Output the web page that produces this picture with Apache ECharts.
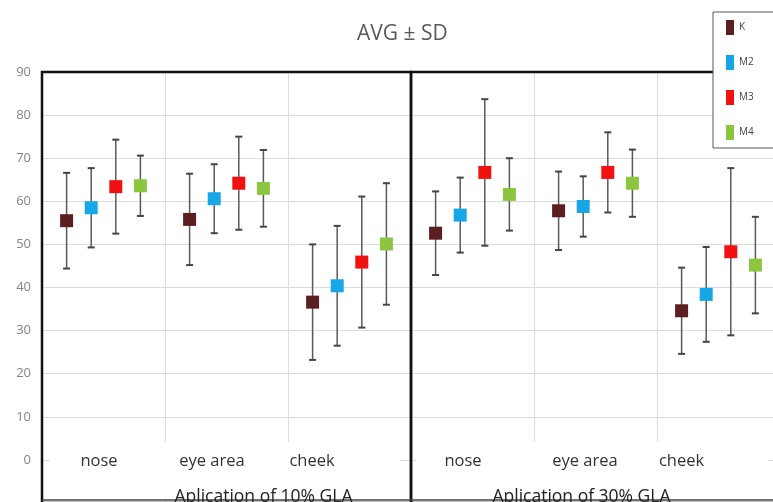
<!DOCTYPE html>
<html>
<head>
<meta charset="utf-8">
<script src="https://cdn.jsdelivr.net/npm/echarts@6/dist/echarts.min.js"></script>
<style>
  html, body { margin: 0; padding: 0; background: #fff; }
  #main { width: 773px; height: 502px; }
</style>
</head>
<body>
<div id="main"></div>
<script>
// categories and series
var cats = ['nose', 'eye area', 'cheek'];
var names = ['K', 'M2', 'M3', 'M4'];
var panels = ['Aplication of 10% GLA', 'Aplication of 30% GLA'];

// 10% GLA: averages and SD per area (nose, eye area, cheek)
var avg10K  = [55.5, 55.8, 36.6];
var sd10K   = [11.1, 10.6, 13.4];
var avg10M2 = [58.5, 60.6, 40.4];
var sd10M2  = [9.2, 8.0, 13.9];
var avg10M3 = [63.4, 64.2, 45.9];
var sd10M3  = [10.9, 10.8, 15.2];
var avg10M4 = [63.6, 63.0, 50.1];
var sd10M4  = [7.0, 8.9, 14.1];

// 30% GLA
var avg30K  = [52.6, 57.8, 34.6];
var sd30K   = [9.7, 9.1, 10.0];
var avg30M2 = [56.8, 58.8, 38.4];
var sd30M2  = [8.7, 7.0, 11.0];
var avg30M3 = [66.7, 66.7, 48.3];
var sd30M3  = [17.0, 9.3, 19.4];
var avg30M4 = [61.6, 64.2, 45.2];
var sd30M4  = [8.4, 7.8, 11.2];

var colors = ['#5c1f1f', '#18a7e6', '#f21111', '#8cc63f'];
var font = 'Open Sans';

// how far each area label sits left of its category centre
var shift10 = [4.5, 14.5, 37.5];
var shift30 = [9.5, 10.5, 37];

function richFor(shift) {
    var rich = {};
    shift.forEach(function (s, i) {
        rich['c' + i] = {
            fontFamily: font, fontSize: 16.5, color: '#333',
            padding: [0, s * 2, 0, 0]
        };
    });
    return rich;
}

function makeSeries(k, avg, sd, xIdx, yIdx) {
    return {
        name: names[k],
        type: 'custom',
        xAxisIndex: xIdx,
        yAxisIndex: yIdx,
        itemStyle: { color: colors[k] },
        encode: { x: 0, y: 1 },
        z: 5,
        data: cats.map(function (c, i) {
            return [i, avg[i], avg[i] - sd[i], avg[i] + sd[i]];
        }),
        renderItem: function (params, api) {
            var mid = api.coord([api.value(0), api.value(1)]);
            var lo = api.coord([api.value(0), api.value(2)]);
            var hi = api.coord([api.value(0), api.value(3)]);
            var bw = api.size([1, 0])[0];
            var x = mid[0] + (k - 1.5) * bw * 0.2;
            return {
                type: 'group',
                children: [
                    { type: 'line', shape: { x1: x, y1: hi[1], x2: x, y2: lo[1] },
                      style: { stroke: '#5a5a5a', lineWidth: 1.5 } },
                    { type: 'line', shape: { x1: x - 3.5, y1: hi[1], x2: x + 3.5, y2: hi[1] },
                      style: { stroke: '#444', lineWidth: 2 } },
                    { type: 'line', shape: { x1: x - 3.5, y1: lo[1], x2: x + 3.5, y2: lo[1] },
                      style: { stroke: '#444', lineWidth: 2 } },
                    { type: 'rect', shape: { x: x - 6.5, y: mid[1] - 6.5, width: 13, height: 13 },
                      style: { fill: colors[k] } }
                ]
            };
        }
    };
}

function lineAxis(grid) {
    return {
        type: 'category', gridIndex: grid, data: cats, position: 'bottom', z: 0,
        axisLine: { show: false }, axisTick: { show: false }, axisLabel: { show: false },
        splitLine: { show: true, lineStyle: { color: '#dcdcdc', width: 1 } }
    };
}

// axis lifted into the plot so its labels and name sit inside the frame
function labelAxis(grid, shift, title, namePad) {
    return {
        type: 'category', gridIndex: grid, data: cats, position: 'bottom', z: 10,
        offset: -21,
        axisLine: { show: false }, axisTick: { show: false }, splitLine: { show: false },
        axisLabel: {
            inside: true, margin: 12,
            formatter: function (v, i) { return '{c' + i + '|' + v + '}'; },
            rich: richFor(shift)
        },
        name: title, nameLocation: 'middle', nameGap: 0,
        nameTextStyle: { fontFamily: font, fontSize: 17.5, color: '#222', padding: namePad }
    };
}

function valAxis(grid, showLabels) {
    return {
        type: 'value', gridIndex: grid, min: -10, max: 90, interval: 10, z: 0,
        axisLine: { show: false }, axisTick: { show: false },
        axisLabel: {
            show: showLabels, margin: 11, color: '#858585', fontFamily: font, fontSize: 13,
            formatter: function (v) { return v < 0 ? '' : v; }
        },
        splitLine: { show: true, lineStyle: { color: '#dcdcdc', width: 1 } }
    };
}

var series = [
    makeSeries(0, avg10K, sd10K, 0, 0),
    makeSeries(1, avg10M2, sd10M2, 0, 0),
    makeSeries(2, avg10M3, sd10M3, 0, 0),
    makeSeries(3, avg10M4, sd10M4, 0, 0),
    makeSeries(0, avg30K, sd30K, 2, 1),
    makeSeries(1, avg30M2, sd30M2, 2, 1),
    makeSeries(2, avg30M3, sd30M3, 2, 1),
    makeSeries(3, avg30M4, sd30M4, 2, 1)
];

var chart = echarts.init(document.getElementById('main'));
chart.setOption({
    backgroundColor: '#fff',
    animation: false,
    title: {
        text: 'AVG ± SD', left: 352, top: 19,
        textStyle: { fontFamily: font, fontSize: 21, fontWeight: 'normal', color: '#595959' }
    },
    legend: {
        data: names, orient: 'vertical', left: 713, top: 12,
        icon: 'rect', itemWidth: 8, itemHeight: 15, itemGap: 20, itemTextGap: 11,
        padding: [8, 20, 8, 13],
        backgroundColor: '#fff', borderColor: '#555', borderWidth: 1,
        textStyle: { fontFamily: font, fontSize: 10, color: '#444' },
        z: 20
    },
    grid: [
        { left: 42, top: 72, width: 369, height: 431, outerBoundsMode: 'none', z: 3,
          show: true, borderColor: '#111', borderWidth: 2.5 },
        { left: 411, top: 72, width: 369, height: 431, outerBoundsMode: 'none', z: 3,
          show: true, borderColor: '#111', borderWidth: 2.5 }
    ],
    xAxis: [
        lineAxis(0),
        labelAxis(0, shift10, panels[0], [0, 0, 0, 74]),
        lineAxis(1),
        labelAxis(1, shift30, panels[1], [0, 28, 0, 0])
    ],
    yAxis: [valAxis(0, true), valAxis(1, false)],
    // white strip behind the area labels, plus the lower frame line
    graphic: [
        { type: 'rect', z: 1, shape: { x: 50, y: 442, width: 350, height: 57 }, style: { fill: '#fff' } },
        { type: 'rect', z: 1, shape: { x: 416, y: 442, width: 352, height: 57 }, style: { fill: '#fff' } },
        { type: 'line', z: 4, shape: { x1: 42, y1: 500, x2: 773, y2: 500 }, style: { stroke: '#444', lineWidth: 1.5 } }
    ],
    series: series
});
</script>
</body>
</html>
